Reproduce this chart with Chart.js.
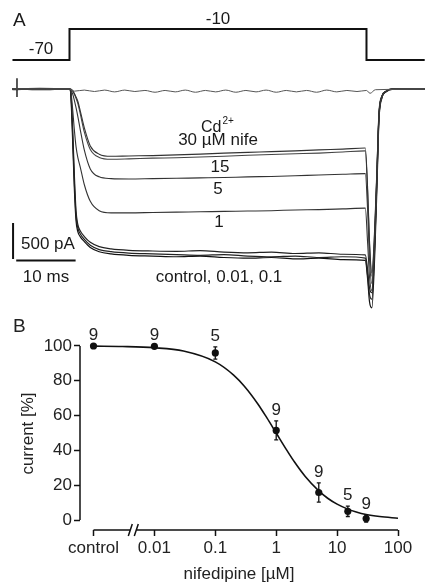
<!DOCTYPE html>
<html><head><meta charset="utf-8">
<script src="https://cdn.jsdelivr.net/npm/chart.js@4.4.1/dist/chart.umd.min.js"></script>
<style>
html,body{margin:0;padding:0;background:#fff;}
#wrap{position:relative;width:425px;height:587px;overflow:hidden;background:#fff;}
canvas{position:absolute;left:0;top:0;}
</style></head><body>
<div id="wrap"><canvas id="cA" width="425" height="587"></canvas><canvas id="cB" width="425" height="587"></canvas></div>
<script>
// ===== Panel A: voltage protocol (mV) =====
const stepTime = [-9.6, 0, 0, 50, 50, 59.8];
const stepVoltage = [-70, -70, -10, -10, -70, -70];

// ===== Panel A: current traces (ms, pA) =====
const traceTime = [-9.6, -5, 0, 0.2, 0.5, 0.8, 1.1, 1.4, 1.8, 2.5, 3.5, 5, 7, 10, 14, 18, 22, 26, 30, 34, 38, 42, 46, 49.8, 50.2, 50.5, 50.9, 51.4, 51.8, 52.1, 52.6, 53.3, 54.3, 59.8];
const controlTrace = [5, -10, 0, -60, -650, -1350, -1830, -1980, -2050, -2120, -2200, -2260, -2290, -2310, -2320, -2330, -2320, -2340, -2350, -2340, -2360, -2350, -2370, -2380, -2650, -2950, -3040, -2280, -1250, -430, -125, -40, -5, 0];
const nife001Trace = [-10, 5, 0, -40, -560, -1260, -1760, -1930, -2010, -2090, -2170, -2230, -2260, -2280, -2290, -2300, -2310, -2300, -2320, -2330, -2320, -2340, -2330, -2350, -2600, -2850, -2920, -2150, -1150, -380, -110, -35, 0, 0];
const nife01Trace = [0, -5, 0, -30, -480, -1160, -1690, -1880, -1970, -2050, -2130, -2190, -2220, -2240, -2250, -2255, -2245, -2265, -2275, -2265, -2285, -2275, -2295, -2305, -2520, -2760, -2830, -2050, -1050, -330, -95, -30, 0, 0];
const nife1Trace = [0, 10, 0, -20, -250, -550, -800, -950, -1080, -1330, -1560, -1690, -1720, -1720, -1715, -1710, -1705, -1700, -1695, -1690, -1680, -1675, -1665, -1655, -2150, -2600, -2800, -2150, -1150, -400, -115, -35, 0, 0];
const nife5Trace = [0, -5, 0, -10, -60, -150, -260, -380, -560, -850, -1110, -1220, -1245, -1250, -1245, -1240, -1235, -1230, -1220, -1215, -1205, -1195, -1185, -1175, -1700, -2350, -2700, -2050, -1100, -380, -110, -32, 0, 0];
const nife15Trace = [5, 0, 0, 0, -25, -70, -130, -200, -340, -600, -840, -950, -975, -970, -960, -955, -945, -935, -920, -910, -900, -890, -875, -860, -1450, -2150, -2600, -1950, -1050, -360, -105, -30, 0, 0];
const nife30Trace = [0, 0, 0, 0, -20, -60, -110, -170, -300, -540, -790, -905, -935, -930, -925, -915, -905, -890, -880, -870, -860, -845, -835, -820, -1400, -2100, -2550, -1900, -1000, -350, -100, -30, 0, 0];
const cdTime = [-9.6, -4, 0, 0.8, 2.5, 4.2, 5.9, 7.6, 9.3, 11, 12.7, 14.4, 16.1, 17.8, 19.5, 21.2, 22.9, 24.6, 26.3, 28, 29.7, 31.4, 33.1, 34.8, 36.5, 38.2, 39.9, 41.6, 43.3, 45, 46.7, 48.4, 50, 50.6, 51.5, 59.8];
const cdTrace = [0, 0, 0, -30, -15, -35, -15, -40, -15, -35, -20, -45, -20, -40, -15, -45, -20, -40, -15, -45, -20, -40, -15, -45, -20, -40, -20, -45, -15, -40, -20, -35, -20, -60, -10, 0];
const artifactTime = [-8.84, -8.84];
const artifactCurrent = [150, -110];

// scale bars
const scaleBarMs = 10;
const scaleBarPA = 500;

// ===== Panel B: dose response =====
const concLabels = ['control', '0.01', '0.1', '1', '5', '15', '30'];
const concPos = [0.001, 0.01, 0.1, 1, 5, 15, 30]; // control drawn at the 0.001 slot
const currentMean = [100, 99.8, 96, 51.5, 15.8, 5, 0.8];
const currentSem = [0, 0, 3.5, 5.5, 5.5, 3, 2];
const nCells = [9, 9, 5, 9, 9, 5, 9];
const fitConc = [0.001, 0.003, 0.01, 0.03, 0.1, 0.2, 0.3, 0.5, 0.7, 1, 1.5, 2, 3, 5, 7, 10, 15, 20, 30, 50, 100];
const fitCurrent = [99.9, 99.7, 99.0, 97.1, 90.9, 83.3, 76.9, 66.7, 58.8, 50, 40, 33.3, 25, 16.7, 12.5, 9.1, 6.25, 4.8, 3.2, 2, 1];
const yTicks = [0, 20, 40, 60, 80, 100];
const xTickValues = [0.001, 0.01, 0.1, 1, 10, 100];
const xTickLabels = ['control', '0.01', '0.1', '1', '10', '100'];
const axisBreakAt = 0.0045;

const FONT = '"Liberation Sans", Arial, Helvetica, sans-serif';
Chart.defaults.font.family = FONT;
const mk = (ts, vs) => ts.map((t, i) => ({x: t, y: vs[i]}));

function trace(times, vals, color, w) {
  return {data: mk(times, vals), yAxisID: 'yI', borderColor: color, borderWidth: w,
          cubicInterpolationMode: 'monotone', pointRadius: 0, fill: false};
}

const textA = {
  id: 'textA',
  afterDraw(chart) {
    const ctx = chart.ctx;
    ctx.save();
    ctx.fillStyle = '#1a1a1a';
    ctx.textBaseline = 'middle';
    ctx.textAlign = 'left';
    ctx.font = `19px ${FONT}`;
    ctx.fillText('A', 13, 21);
    ctx.font = `17px ${FONT}`;
    ctx.textAlign = 'center';
    ctx.fillText('-70', 41, 49);
    ctx.fillText('-10', 218, 19);
    ctx.fillText('30 µM nife', 218, 140);
    ctx.fillText('15', 220, 167);
    ctx.fillText('5', 218, 189);
    ctx.fillText('1', 219, 222);
    ctx.fillText('control, 0.01, 0.1', 219, 277);
    ctx.fillText('10 ms', 46, 277);
    ctx.textAlign = 'left';
    ctx.fillText('500 pA', 21, 244);
    // Cd2+
    ctx.font = `16px ${FONT}`;
    ctx.fillText('Cd', 201, 128);
    const w = ctx.measureText('Cd').width;
    ctx.font = `10px ${FONT}`;
    ctx.fillText('2+', 201 + w + 1, 121);
    ctx.restore();
  }
};

new Chart(document.getElementById('cA'), {
  type: 'line',
  data: {datasets: [
    {data: mk(stepTime, stepVoltage), yAxisID: 'yV', borderColor: '#111', borderWidth: 2, pointRadius: 0, tension: 0},
    trace(cdTime, cdTrace, '#555', 1),
    trace(traceTime, nife30Trace, '#333', 1.1),
    trace(traceTime, nife15Trace, '#444', 1.1),
    trace(traceTime, nife5Trace, '#333', 1.1),
    trace(traceTime, nife1Trace, '#333', 1.1),
    trace(traceTime, nife01Trace, '#222', 1.2),
    trace(traceTime, nife001Trace, '#222', 1.2),
    trace(traceTime, controlTrace, '#111', 1.2),
    {data: mk(artifactTime, artifactCurrent), yAxisID: 'yI', borderColor: '#222', borderWidth: 1.5, pointRadius: 0},
    {data: [{x: -9.5, y: -1860}, {x: -9.5, y: -1860 - scaleBarPA}], yAxisID: 'yI', borderColor: '#111', borderWidth: 2, pointRadius: 0},
    {data: [{x: -8.97, y: -2382}, {x: -8.97 + scaleBarMs, y: -2382}], yAxisID: 'yI', borderColor: '#111', borderWidth: 2, pointRadius: 0}
  ]},
  options: {
    responsive: false, animation: false, events: [],
    layout: {padding: 0},
    plugins: {legend: {display: false}, tooltip: {enabled: false}},
    scales: {
      x: {type: 'linear', display: false, min: -11.70, max: 59.85},
      yI: {type: 'linear', display: false, min: -6916.7, max: 1236.1},
      yV: {type: 'linear', display: false, min: -1090.0, max: 46.13}
    }
  },
  plugins: [textA]
});

const panelB = {
  id: 'panelB',
  afterDraw(chart) {
    const {ctx, chartArea: a, scales: {x, y}} = chart;
    ctx.save();
    ctx.strokeStyle = '#111'; ctx.lineWidth = 1.5;
    ctx.beginPath();
    ctx.moveTo(a.left, y.getPixelForValue(yTicks[0]));
    ctx.lineTo(a.left, y.getPixelForValue(yTicks[yTicks.length - 1]));
    ctx.stroke();
    const bx = x.getPixelForValue(axisBreakAt);
    const x0 = x.getPixelForValue(xTickValues[0]);
    const x1 = x.getPixelForValue(xTickValues[xTickValues.length - 1]);
    const yb = a.bottom;
    ctx.beginPath();
    ctx.moveTo(x0, yb); ctx.lineTo(bx - 3, yb);
    ctx.moveTo(bx + 3, yb); ctx.lineTo(x1, yb);
    ctx.moveTo(bx - 5, yb + 6); ctx.lineTo(bx - 1, yb - 6);
    ctx.moveTo(bx + 1, yb + 6); ctx.lineTo(bx + 5, yb - 6);
    ctx.stroke();
    ctx.lineWidth = 1.3;
    concPos.forEach((c, i) => {
      const e = currentSem[i]; if (!e) return;
      const px = x.getPixelForValue(c);
      const pt = y.getPixelForValue(currentMean[i] + e), pb = y.getPixelForValue(currentMean[i] - e);
      ctx.beginPath();
      ctx.moveTo(px, pt); ctx.lineTo(px, pb);
      ctx.moveTo(px - 2, pt); ctx.lineTo(px + 2, pt);
      ctx.moveTo(px - 2, pb); ctx.lineTo(px + 2, pb);
      ctx.stroke();
    });
    ctx.fillStyle = '#222';
    ctx.font = `17px ${FONT}`; ctx.textAlign = 'center'; ctx.textBaseline = 'middle';
    concPos.forEach((c, i) => {
      ctx.fillText(String(nCells[i]), x.getPixelForValue(c), y.getPixelForValue(currentMean[i] + currentSem[i]) - 11);
    });
    ctx.font = `19px ${FONT}`; ctx.textAlign = 'left';
    ctx.fillText('B', 13, 327);
    ctx.restore();
  }
};

new Chart(document.getElementById('cB'), {
  type: 'scatter',
  data: {datasets: [
    {data: mk(fitConc, fitCurrent), showLine: true, pointRadius: 0, borderColor: '#111', borderWidth: 1.6, cubicInterpolationMode: 'monotone'},
    {data: mk(concPos, currentMean), showLine: false, pointRadius: 3.6, pointBackgroundColor: '#111', pointBorderColor: '#111', pointBorderWidth: 0}
  ]},
  options: {
    responsive: false, animation: false, events: [],
    layout: {padding: {left: 8, right: 27, top: 337, bottom: 0}},
    plugins: {legend: {display: false}, tooltip: {enabled: false}},
    scales: {
      x: {
        type: 'logarithmic', position: 'bottom', min: 0.000612, max: 100,
        afterBuildTicks: s => { s.ticks = xTickValues.map(v => ({value: v})); },
        afterFit: s => { s.height = 57; },
        border: {display: false},
        grid: {drawOnChartArea: false, drawTicks: true, tickLength: 6, tickWidth: 1.5, tickColor: '#111'},
        ticks: {autoSkip: false, maxRotation: 0, padding: 2, color: '#222', font: {size: 17},
                callback: (v, i) => xTickLabels[i]},
        title: {display: true, text: 'nifedipine [µM]', color: '#222', font: {size: 17}, padding: {top: 0, bottom: 2}}
      },
      y: {
        type: 'linear', position: 'left', min: -5.747, max: 105.172,
        afterBuildTicks: s => { s.ticks = yTicks.map(v => ({value: v})); },
        afterFit: s => { s.width = 72; },
        border: {display: false},
        grid: {drawOnChartArea: false, drawTicks: true, tickLength: 6, tickWidth: 1.5, tickColor: '#111'},
        ticks: {padding: 2, color: '#222', font: {size: 17}},
        title: {display: true, text: 'current [%]', color: '#222', font: {size: 17}, padding: {top: 10, bottom: 0}}
      }
    }
  },
  plugins: [panelB]
});
</script>
</body></html>
